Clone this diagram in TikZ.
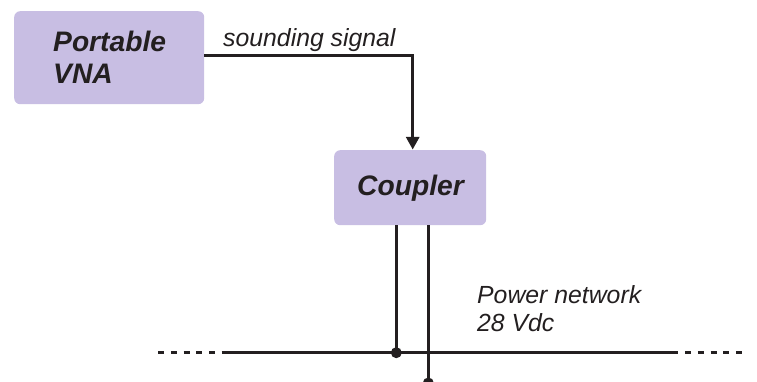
\documentclass[tikz,border=0pt]{standalone}
\usepackage{fontspec}
\setmainfont{Liberation Sans}
\usetikzlibrary{arrows.meta}
\definecolor{boxfill}{HTML}{C8BEE3}
\definecolor{ink}{HTML}{231F20}
\tikzset{
  block/.style={fill=boxfill,rounded corners=6pt,inner sep=0pt,anchor=north west},
  boxtext/.style={font=\fontsize{28.2}{32}\selectfont\bfseries\itshape,text=ink,inner sep=0pt,anchor=base west,align=left},
  note/.style={font=\fontsize{24.8}{28}\selectfont\itshape,text=ink,inner sep=0pt,anchor=base west,align=left},
  wire/.style={draw=ink,line width=2.7pt},
  dashwire/.style={draw=ink,line width=2.7pt,dash pattern=on 6pt off 6.8pt},
  junction/.style={circle,fill=ink,inner sep=0pt,minimum size=11pt}
}
\begin{document}
\begin{tikzpicture}[x=1pt,y=-1pt]
\useasboundingbox (0,0) rectangle (757,382);
\node[block,minimum width=190pt,minimum height=93pt] (vna) at (14,11) {};
\node[block,minimum width=152pt,minimum height=75pt] (coupler) at (334,150) {};
\node[boxtext] (vnatext1) at (53,52) {Portable};
\node[boxtext] (vnatext2) at (53,84) {VNA};
\node[boxtext] (couplertext) at (357,195.5) {Coupler};
\node[note] (signal) at (223,47) {sounding signal};
\node[note] (power1) at (477,303.5) {Power network};
\node[note] (power2) at (477,331) {28 Vdc};
\coordinate (corner) at (412.7,55.5);
\coordinate (vnaout) at (204,55.5);
\coordinate (busL) at (221.7,352.7);
\coordinate (busR) at (678,352.7);
\coordinate (dashLa) at (158,352.7);
\coordinate (dashLb) at (215,352.7);
\coordinate (dashRa) at (685,352.7);
\coordinate (dashRb) at (742,352.7);
\coordinate (couplerin) at (412.7,149.5);
\coordinate (c1) at (396.3,225);
\coordinate (c2) at (428.3,225);
\node[junction] (j1) at (396.3,352.7) {};
\node[junction] (j2) at (428.3,383) {};
\draw[wire,-{Triangle[length=12.5pt,width=13pt]}] (vnaout) -- (corner) -- (couplerin);
\draw[wire] (c1) -- (j1.center);
\draw[wire] (c2) -- (j2.center);
\draw[wire] (busL) -- (busR);
\draw[dashwire] (dashLa) -- (dashLb);
\draw[dashwire] (dashRa) -- (dashRb);
\end{tikzpicture}
\end{document}
